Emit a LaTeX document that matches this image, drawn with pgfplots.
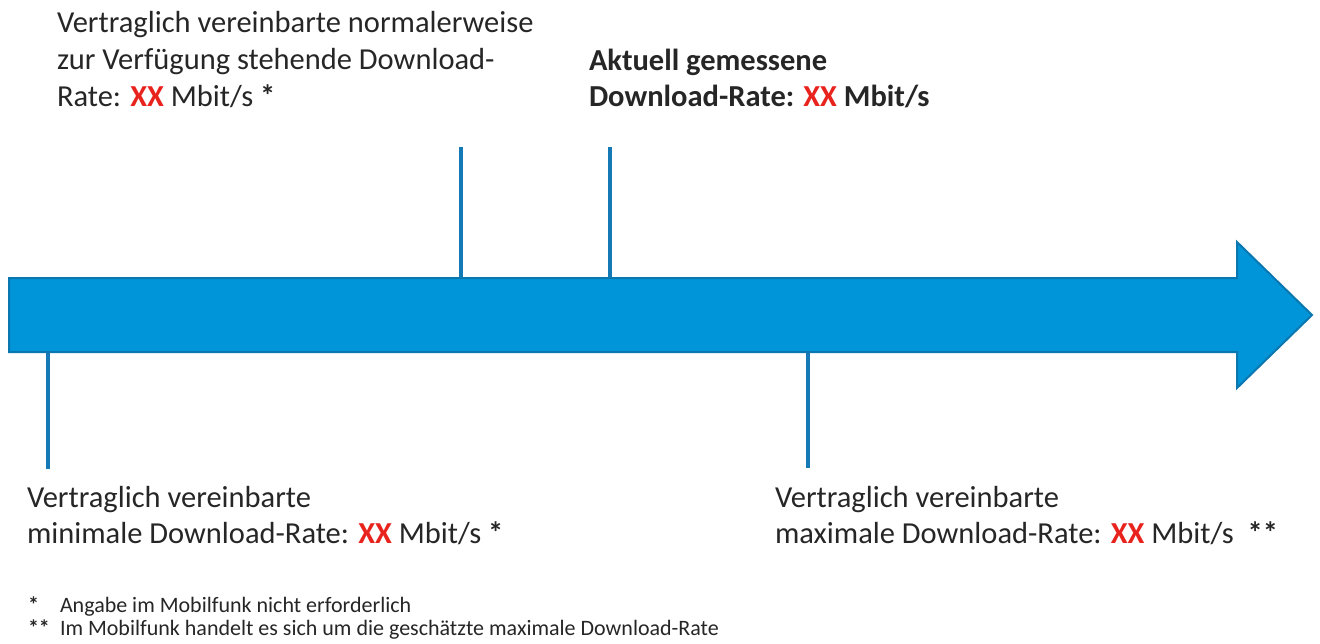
\documentclass[border=0pt]{standalone}
\usepackage{pgfplots}
\pgfplotsset{compat=1.18}
\usepackage{fontspec}
\setmainfont{Carlito}
\definecolor{arrowblue}{HTML}{0095D8}
\definecolor{arrowedge}{HTML}{0B77B0}
\definecolor{linecol}{HTML}{1479B5}
\definecolor{txt}{HTML}{262626}
\definecolor{xxred}{HTML}{E8231E}
\newcommand{\XX}{\textcolor{xxred}{\textbf{XX}}}
\newcommand{\st}{\textbf{*}}
\tikzset{
  lbl/.style={inner sep=0pt, outer sep=0pt, text=txt, font=\fontsize{15.25}{18.5}\selectfont, anchor=base west},
  fn/.style={inner sep=0pt, outer sep=0pt, text=txt, font=\fontsize{11}{13}\selectfont, anchor=base west},
}
\begin{document}
\begin{tikzpicture}
\begin{axis}[
  scale only axis, width=660pt, height=321.5pt,
  xmin=0, xmax=1320, ymin=0, ymax=643, y dir=reverse,
  hide axis, clip=false,
]
\path (axis cs:0,0) rectangle (axis cs:1320,643);
% marker lines
\addplot[linecol, line width=2pt] coordinates {(461,147) (461,280)};
\addplot[linecol, line width=2pt] coordinates {(610,147) (610,280)};
\addplot[linecol, line width=2pt] coordinates {(48,350) (48,469)};
\addplot[linecol, line width=2pt] coordinates {(808,350) (808,468)};
% arrow
\addplot[fill=arrowblue, draw=arrowedge, line width=1pt] coordinates {
  (9,278) (1237,278) (1237,242) (1312,315) (1237,388) (1237,352) (9,352)} -- cycle;
% top left
\node[lbl] at (axis cs:57,32) {Vertraglich vereinbarte normalerweise};
\node[lbl] at (axis cs:57,69) {zur Verfügung stehende Download-};
\node[lbl] at (axis cs:57,106) {Rate: \XX{} Mbit/s \st};
% top middle
\node[lbl] at (axis cs:589,70) {\bfseries Aktuell gemessene};
\node[lbl] at (axis cs:589,106) {\bfseries Download-Rate: \XX{} Mbit/s};
% bottom left
\node[lbl] at (axis cs:27,507) {Vertraglich vereinbarte};
\node[lbl] at (axis cs:27,543) {minimale Download-Rate: \XX{} Mbit/s \st};
% bottom right
\node[lbl] at (axis cs:775,507) {Vertraglich vereinbarte};
\node[lbl] at (axis cs:775,543) {maximale Download-Rate: \XX{} Mbit/s\ \ \st\st};
% footnotes
\node[fn] at (axis cs:28,612) {\st};
\node[fn] at (axis cs:60,612) {Angabe im Mobilfunk nicht erforderlich};
\node[fn] at (axis cs:28,635) {\st\st};
\node[fn] at (axis cs:60,635) {Im Mobilfunk handelt es sich um die geschätzte maximale Download-Rate};
\end{axis}
\end{tikzpicture}
\end{document}
